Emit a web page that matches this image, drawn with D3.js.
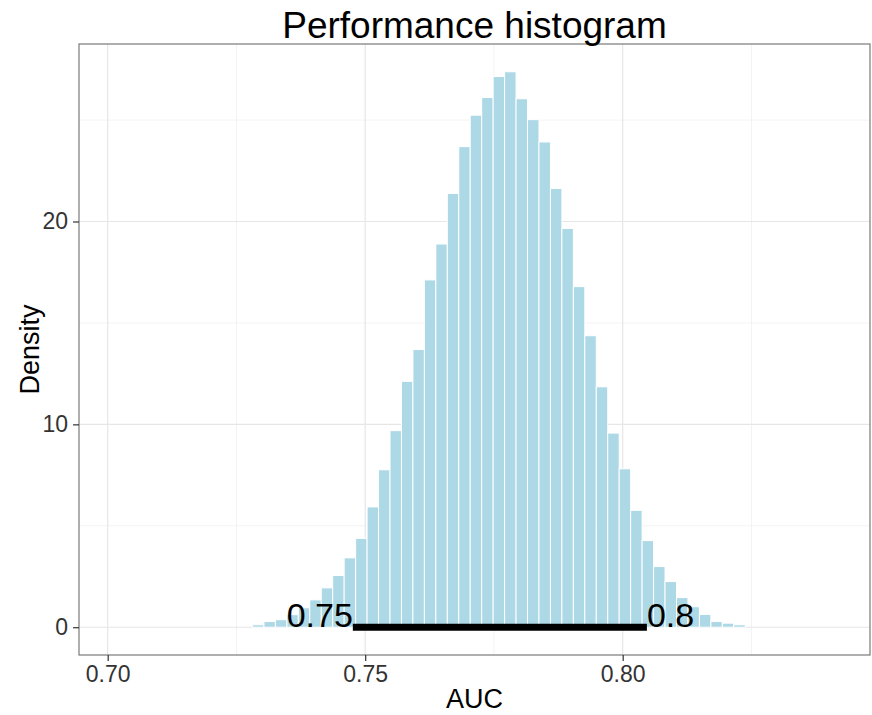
<!DOCTYPE html>
<html>
<head>
<meta charset="utf-8">
<script src="https://cdn.jsdelivr.net/npm/d3@7"></script>
<style>
  body { margin: 0; background: #fff; }
  text { font-family: "Liberation Sans", Arial, sans-serif; }
</style>
</head>
<body>
<div id="chart"></div>
<script>
// Histogram data (density per bin)
var binStart = 0.70142
var binWidth = 0.002225
var density = [0, 0, 0, 0, 0, 0, 0, 0, 0, 0, 0, 0,
  0.12, 0.28, 0.37, 0.62, 0.96, 1.35, 1.94, 2.55, 3.42, 4.38,
  5.93, 7.76, 9.69, 12.12, 13.69, 17.12, 18.89, 21.38, 23.69, 25.24,
  26.11, 27.15, 27.38, 26.05, 25.02, 23.92, 21.63, 19.66, 16.79, 14.37,
  11.85, 9.57, 7.81, 5.76, 4.27, 2.99, 2.25, 1.46, 1.01, 0.63,
  0.28, 0.2, 0.12, 0, 0, 0, 0, 0, 0, 0, 0]

// Interval annotation
var interval = [0.7476, 0.8047]
var intervalLabels = ["0.75", "0.8"]

// Axis ticks
var xTicks = [0.70, 0.75, 0.80]
var xMinor = [0.725, 0.775, 0.825]
var yTicks = [0, 10, 20]
var yMinor = [5, 15, 25]

var width = 872, height = 715
var panel = {left: 79, right: 870, top: 44, bottom: 655}

var svg = d3.select("#chart").append("svg")
  .attr("width", width)
  .attr("height", height)

svg.append("rect").attr("width", width).attr("height", height).attr("fill", "#fff")

var x = d3.scaleLinear()
  .domain([0.69443, 0.84802])
  .range([panel.left, panel.right])

var yMax = d3.max(density)
var yPad = yMax * 0.05
var y = d3.scaleLinear()
  .domain([-yPad, yMax + yPad])
  .range([panel.bottom, panel.top])

// grid
var grid = svg.append("g")
grid.selectAll(".xminor").data(xMinor).enter().append("line")
  .attr("x1", d => x(d)).attr("x2", d => x(d))
  .attr("y1", panel.top).attr("y2", panel.bottom)
  .attr("stroke", "#f3f3f3").attr("stroke-width", 1)
grid.selectAll(".yminor").data(yMinor).enter().append("line")
  .attr("x1", panel.left).attr("x2", panel.right)
  .attr("y1", d => y(d)).attr("y2", d => y(d))
  .attr("stroke", "#f3f3f3").attr("stroke-width", 1)
grid.selectAll(".xmajor").data(xTicks).enter().append("line")
  .attr("x1", d => x(d)).attr("x2", d => x(d))
  .attr("y1", panel.top).attr("y2", panel.bottom)
  .attr("stroke", "#e6e6e6").attr("stroke-width", 1.2)
grid.selectAll(".ymajor").data(yTicks).enter().append("line")
  .attr("x1", panel.left).attr("x2", panel.right)
  .attr("y1", d => y(d)).attr("y2", d => y(d))
  .attr("stroke", "#e6e6e6").attr("stroke-width", 1.2)

// bars
svg.append("g").selectAll("rect")
  .data(density)
  .enter()
  .append("rect")
  .attr("x", (d, i) => x(binStart + i * binWidth))
  .attr("width", (d, i) => x(binStart + (i + 1) * binWidth) - x(binStart + i * binWidth))
  .attr("y", d => y(d))
  .attr("height", d => y(0) - y(d))
  .attr("fill", "#add8e6")
  .attr("stroke", "#fff")
  .attr("stroke-width", 1)

// interval segment and labels
svg.append("line")
  .attr("x1", x(interval[0])).attr("x2", x(interval[1]))
  .attr("y1", y(0)).attr("y2", y(0))
  .attr("stroke", "#000").attr("stroke-width", 7)

svg.append("text")
  .attr("x", x(interval[0])).attr("y", y(0))
  .attr("text-anchor", "end")
  .style("font-size", "34px")
  .text(intervalLabels[0])
svg.append("text")
  .attr("x", x(interval[1])).attr("y", y(0))
  .attr("text-anchor", "start")
  .style("font-size", "34px")
  .text(intervalLabels[1])

// panel border
svg.append("rect")
  .attr("x", panel.left).attr("y", panel.top)
  .attr("width", panel.right - panel.left)
  .attr("height", panel.bottom - panel.top)
  .attr("fill", "none").attr("stroke", "#7a7a7a").attr("stroke-width", 1.2)

// axes
var xAxis = svg.append("g")
  .attr("transform", "translate(0," + panel.bottom + ")")
  .call(d3.axisBottom(x).tickValues(xTicks).tickFormat(d3.format(".2f")).tickSize(6).tickPadding(5))
var yAxis = svg.append("g")
  .attr("transform", "translate(" + panel.left + ",0)")
  .call(d3.axisLeft(y).tickValues(yTicks).tickFormat(d3.format("d")).tickSize(6).tickPadding(5))

svg.selectAll(".domain").remove()
svg.selectAll(".tick line").attr("stroke", "#333").attr("stroke-width", 1.2)
svg.selectAll(".tick text")
  .attr("fill", "#333")
  .style("font-size", "23px")
  .style("font-family", "'Liberation Sans', Arial, sans-serif")

// titles
svg.append("text")
  .attr("x", (panel.left + panel.right) / 2).attr("y", 38)
  .attr("text-anchor", "middle")
  .style("font-size", "37px")
  .text("Performance histogram")

svg.append("text")
  .attr("x", (panel.left + panel.right) / 2).attr("y", 708)
  .attr("text-anchor", "middle")
  .style("font-size", "27px")
  .text("AUC")

svg.append("text")
  .attr("transform", "translate(39," + (panel.top + panel.bottom) / 2 + ") rotate(-90)")
  .attr("text-anchor", "middle")
  .style("font-size", "27px")
  .text("Density")
</script>
</body>
</html>
